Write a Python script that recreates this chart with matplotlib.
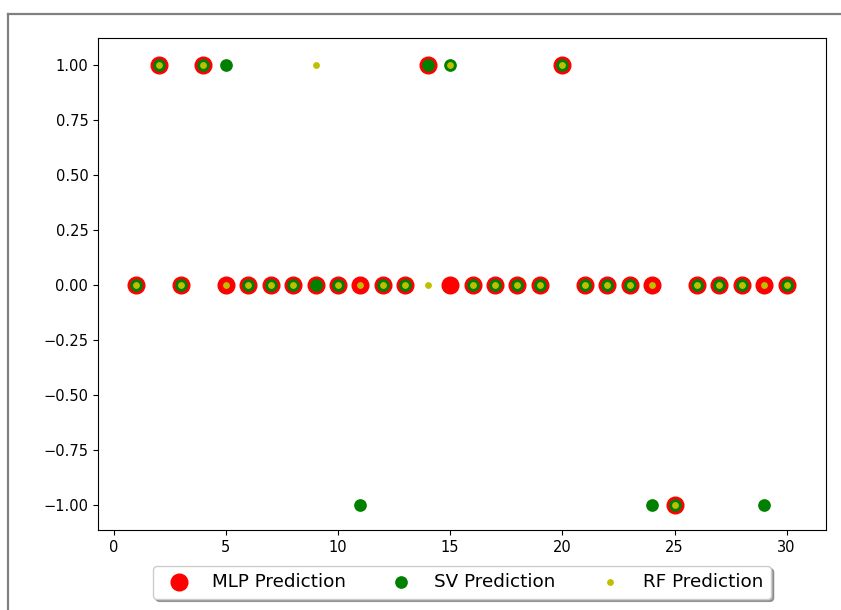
import matplotlib
matplotlib.use("Agg")
import matplotlib.pyplot as plt
from matplotlib.lines import Line2D

# Sample index and the class predicted by each model
samples = list(range(1, 31))
mlp_pred = [0, 1, 0, 1, 0, 0, 0, 0, 0, 0, 0, 0, 0, 1, 0,
            0, 0, 0, 0, 1, 0, 0, 0, 0, -1, 0, 0, 0, 0, 0]
sv_pred = [0, 1, 0, 1, 1, 0, 0, 0, 0, 0, -1, 0, 0, 1, 1,
           0, 0, 0, 0, 1, 0, 0, 0, -1, -1, 0, 0, 0, -1, 0]
rf_pred = [0, 1, 0, 1, 0, 0, 0, 0, 1, 0, 0, 0, 0, 0, 1,
           0, 0, 0, 0, 1, 0, 0, 0, 0, -1, 0, 0, 0, 0, 0]

fig = plt.figure(figsize=(8.41, 6.10), dpi=100)
ax = fig.add_axes([0.1165, 0.1311, 0.8656, 0.8066])

ax.scatter(samples, mlp_pred, s=144, c="red", label="MLP Prediction")
ax.scatter(samples, sv_pred, s=66, c="green", label="SV Prediction")
ax.scatter(samples, rf_pred, s=15, c="y", label="RF Prediction")

ax.set_xlim(-0.7, 31.75)
ax.set_ylim(-1.115, 1.123)
ax.set_yticks([1.0, 0.75, 0.5, 0.25, 0.0, -0.25, -0.5, -0.75, -1.0])
ax.tick_params(labelsize=10.5)

ax.legend(loc="upper center", bbox_to_anchor=(0.5, -0.073), ncol=3,
          fancybox=True, shadow=True, fontsize=13.2, borderaxespad=0.0,
          columnspacing=2.0)

# Window frame around the figure
fig.add_artist(Line2D([8 / 841, 8 / 841], [0, 1 - 14 / 610],
                      transform=fig.transFigure, color="#808080", lw=1.6))
fig.add_artist(Line2D([8 / 841, 1], [1 - 14 / 610, 1 - 14 / 610],
                      transform=fig.transFigure, color="#808080", lw=1.6))

fig.savefig("out.png", dpi=100)
